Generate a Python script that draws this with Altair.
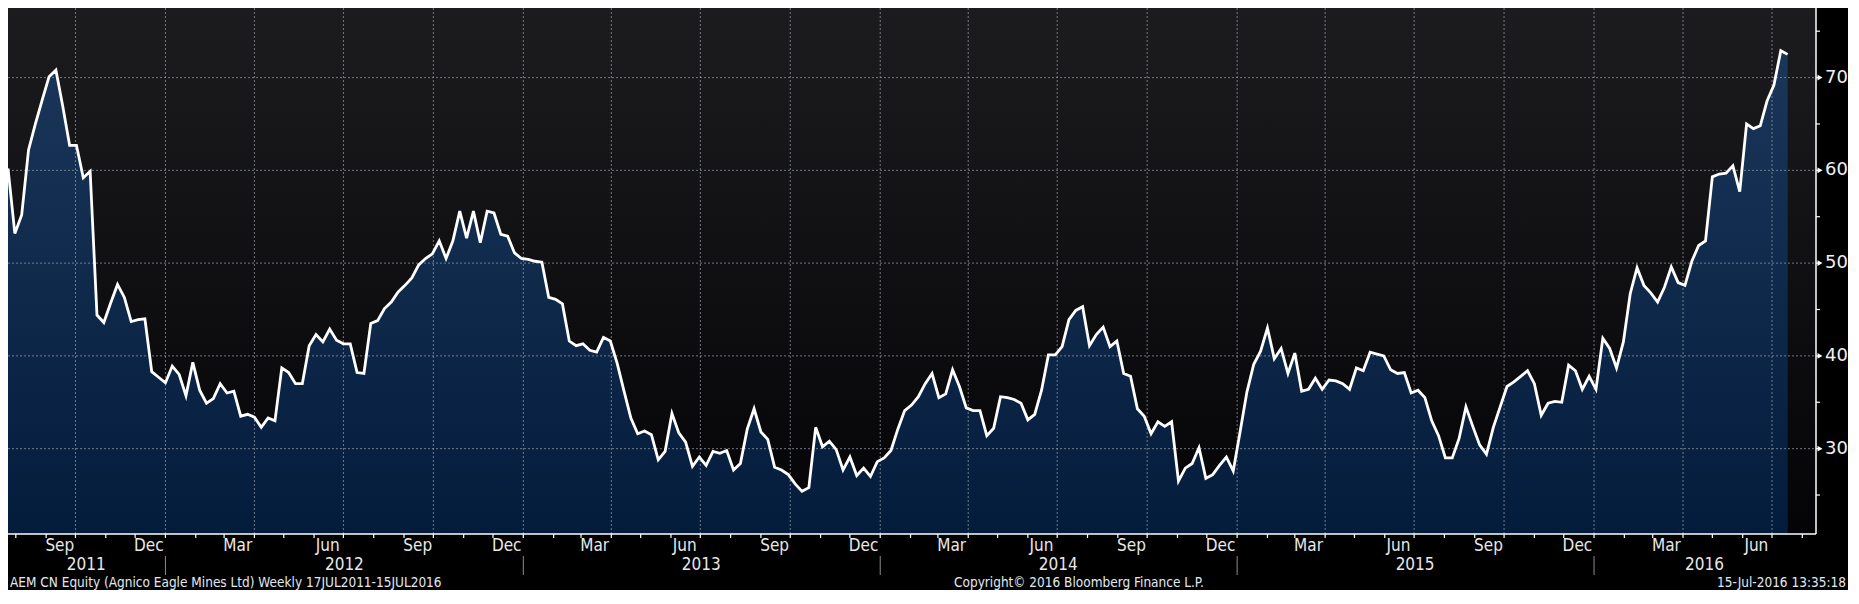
import altair as alt
import pandas as pd

# ---------------- data ----------------
PRICES = [
    60.2, 53.2, 55.2, 62.2, 65.0, 67.6, 70.1, 70.8, 66.9, 62.7,
    62.7, 59.2, 59.9, 44.4, 43.6, 45.7, 47.7, 46.3, 43.7, 43.9,
    44.0, 38.3, 37.7, 37.1, 38.9, 38.0, 35.7, 39.3, 36.3, 34.9,
    35.4, 37.0, 36.0, 36.2, 33.5, 33.7, 33.4, 32.3, 33.3, 33.0,
    38.7, 38.2, 37.0, 37.0, 41.1, 42.3, 41.5, 42.9, 41.7, 41.3,
    41.3, 38.2, 38.1, 43.5, 43.8, 45.1, 45.8, 46.9, 47.6, 48.4,
    49.8, 50.5, 51.0, 52.4, 50.5, 52.4, 55.6, 52.7, 55.6, 52.2,
    55.6, 55.4, 53.1, 52.9, 51.1, 50.5, 50.4, 50.2, 50.1, 46.3,
    46.1, 45.6, 41.6, 41.1, 41.3, 40.6, 40.4, 42.0, 41.6, 39.2,
    36.2, 33.3, 31.6, 31.9, 31.5, 28.8, 29.7, 33.8, 31.7, 30.7,
    28.1, 29.1, 28.2, 29.7, 29.5, 29.8, 27.7, 28.4, 32.1, 34.3,
    31.8, 31.0, 28.0, 27.7, 27.2, 26.2, 25.4, 25.8, 32.3, 30.2,
    30.8, 29.9, 27.7, 29.1, 27.1, 27.9, 27.0, 28.6, 29.0, 29.8,
    32.1, 34.1, 34.7, 35.6, 37.0, 38.1, 35.5, 35.9, 38.5, 36.7,
    34.4, 34.1, 34.1, 31.4, 32.2, 35.6, 35.5, 35.3, 34.9, 33.1,
    33.7, 36.3, 40.1, 40.1, 41.0, 43.9, 44.9, 45.3, 41.1, 42.3,
    43.1, 41.0, 41.6, 38.1, 37.8, 34.3, 33.5, 31.6, 32.9, 32.4,
    32.9, 26.5, 27.9, 28.4, 30.1, 26.8, 27.2, 28.2, 29.1, 27.6,
    31.8, 36.1, 39.1, 40.5, 43.0, 39.7, 40.8, 38.1, 40.3, 36.2,
    36.4, 37.6, 36.4, 37.4, 37.3, 37.0, 36.4, 38.7, 38.4, 40.4,
    40.2, 40.0, 38.5, 38.1, 38.2, 36.0, 36.3, 35.5, 33.0, 31.4,
    29.0, 29.0, 31.1, 34.5, 32.4, 30.4, 29.4, 32.3, 34.5, 36.7,
    37.2, 37.8, 38.4, 37.0, 33.6, 34.9, 35.1, 35.0, 39.0, 38.4,
    36.4, 37.8, 36.4, 41.9, 40.8, 38.7, 41.5, 46.7, 49.5, 47.6,
    46.8, 45.8, 47.4, 49.6, 47.9, 47.6, 50.2, 51.9, 52.4, 59.3,
    59.6, 59.7, 60.5, 57.7, 65.0, 64.5, 64.8, 67.5, 69.2, 72.9,
    72.5,
]
FIRST_DATE = "2011-07-24"          # weekly observations
X_DOMAIN = ("2011-07-24", "2016-08-15")
Y_DOMAIN = (20.8, 77.5)
Y_MAJOR = [30, 40, 50, 60, 70]
Y_TICKS = [25, 30, 35, 40, 45, 50, 55, 60, 65, 70, 75]
LABEL_MONTHS = [3, 6, 9, 12]
YEARS = [2011, 2012, 2013, 2014, 2015, 2016]
FOOT_LEFT = "AEM CN Equity (Agnico Eagle Mines Ltd)  Weekly 17JUL2011-15JUL2016"
FOOT_MID = "Copyright\u00a9 2016 Bloomberg Finance L.P."
FOOT_RIGHT = "15-Jul-2016 13:35:18"

# ---------------- layout / style ----------------
PW, PH = 1808, 526
PAD_R, PAD_B = 32, 56
COND = "Liberation Sans Narrow, DejaVu Sans Condensed, Arial Narrow, sans-serif"
TXT = "#e8e8e8"

x0 = pd.Timestamp(X_DOMAIN[0])
x1 = pd.Timestamp(X_DOMAIN[1])


def dt(ts):
    return alt.DateTime(year=ts.year, month=ts.month, date=ts.day, utc=True)


xs = alt.Scale(type="utc", domain=[dt(x0), dt(x1)])
ys = alt.Scale(domain=list(Y_DOMAIN), zero=False, nice=False)

dates = pd.date_range(FIRST_DATE, periods=len(PRICES), freq="7D")
price_df = pd.DataFrame({"date": dates.strftime("%Y-%m-%d"), "price": PRICES})

month_starts = pd.date_range(x0 + pd.offsets.MonthBegin(1), x1, freq="MS")
tick_df = pd.DataFrame({"d": month_starts.strftime("%Y-%m-%d")})
qstarts = [d for d in month_starts if d.month in (1, 4, 7, 10)]
qgrid_df = pd.DataFrame({"d": [d.strftime("%Y-%m-%d") for d in qstarts]})

mlabels = []
for y in YEARS:
    for m in LABEL_MONTHS:
        mid = pd.Timestamp(year=y, month=m, day=15)
        if x0 <= mid <= x1:
            mlabels.append({"d": mid.strftime("%Y-%m-%d"), "t": mid.strftime("%b")})
month_df = pd.DataFrame(mlabels)

ylabels = []
for y in YEARS:
    a = max(pd.Timestamp(year=y, month=1, day=1), x0)
    b = min(pd.Timestamp(year=y + 1, month=1, day=1), x1)
    c = a + (b - a) / 2
    ylabels.append({"d": c.strftime("%Y-%m-%d"), "t": str(y)})
year_df = pd.DataFrame(ylabels)
sep_df = pd.DataFrame({"d": [f"{y}-01-01" for y in YEARS[1:]]})

ymaj_df = pd.DataFrame({"v": Y_MAJOR, "t": [str(v) for v in Y_MAJOR]})
ytick_df = pd.DataFrame({"v": Y_TICKS})

one = alt.Data(values=[{"k": 1}])

bg_grad = alt.LinearGradient(
    gradient="linear", x1=0, x2=0, y1=0, y2=1,
    stops=[alt.GradientStop(color="#1c1c1f", offset=0),
           alt.GradientStop(color="#040407", offset=1)])
area_grad = alt.LinearGradient(
    gradient="linear", x1=0, x2=0, y1=0, y2=1,
    stops=[alt.GradientStop(color="#1a365a", offset=0),
           alt.GradientStop(color="#041c3c", offset=1)])

X_T = lambda f: alt.X(f, type="temporal", scale=xs, axis=None)
Y_Q = lambda f: alt.Y(f, type="quantitative", scale=ys, axis=None)

bg = alt.Chart(one).mark_rect(fill=bg_grad).encode(
    x=alt.value(0), x2=alt.value(PW), y=alt.value(0), y2=alt.value(PH))

area = alt.Chart(price_df).mark_area(fill=area_grad, clip=True).encode(
    x=X_T("date"), y=Y_Q("price"), y2=alt.datum(Y_DOMAIN[0]))

GRID = dict(color="#9aa3ad", opacity=0.7, strokeDash=[2, 2], strokeWidth=1)
hgrid = alt.Chart(ymaj_df).mark_rule(**GRID).encode(
    y=Y_Q("v"), x=alt.value(0), x2=alt.value(PW))
vgrid = alt.Chart(qgrid_df).mark_rule(**GRID).encode(
    x=X_T("d"), y=alt.value(0), y2=alt.value(PH))

line = alt.Chart(price_df).mark_line(color="white", strokeWidth=2.8).encode(
    x=X_T("date"), y=Y_Q("price"))

# right axis
ydomain = alt.Chart(one).mark_rule(color="white", strokeWidth=1.5).encode(
    x=alt.value(PW), y=alt.value(0), y2=alt.value(PH))
yticks = alt.Chart(ytick_df).mark_rule(color="white", strokeWidth=1.2).encode(
    y=Y_Q("v"), x=alt.value(PW), x2=alt.value(PW + 4))
tri = alt.Chart(ymaj_df).mark_point(
    shape="triangle-right", filled=True, color="white", size=34, opacity=1).encode(
    y=Y_Q("v"), x=alt.value(PW + 4))
ylab = alt.Chart(ymaj_df).mark_text(font="DejaVu Sans", fontSize=18, color="#f0f0f0",
                                    align="left", baseline="middle").encode(
    y=Y_Q("v"), x=alt.value(PW + 9), text="t:N")

# bottom axis
xdomain = alt.Chart(one).mark_rule(color="white", strokeWidth=1.5).encode(
    x=alt.value(0), x2=alt.value(PW), y=alt.value(PH))
mticks = alt.Chart(tick_df).mark_rule(color="white", strokeWidth=1.2).encode(
    x=X_T("d"), y=alt.value(PH), y2=alt.value(PH + 4))
mtext = alt.Chart(month_df).mark_text(font=COND, fontSize=17, color=TXT,
                                      baseline="middle").encode(
    x=X_T("d"), y=alt.value(PH + 12), text="t:N")
ytext = alt.Chart(year_df).mark_text(font=COND, fontSize=17, color=TXT,
                                     baseline="middle").encode(
    x=X_T("d"), y=alt.value(PH + 31), text="t:N")
seps = alt.Chart(sep_df).mark_rule(color="#8c8c8c", strokeWidth=1).encode(
    x=X_T("d"), y=alt.value(PH + 22), y2=alt.value(PH + 41))

FOOT = dict(font=COND, fontSize=13.5, color="#e2e9f2", baseline="middle")
f1 = alt.Chart(one).mark_text(text=FOOT_LEFT, align="left", **FOOT).encode(
    x=alt.value(2), y=alt.value(PH + 49))
f2 = alt.Chart(one).mark_text(text=FOOT_MID, align="left", **FOOT).encode(
    x=alt.value(946), y=alt.value(PH + 49))
f3 = alt.Chart(one).mark_text(text=FOOT_RIGHT, align="right", **FOOT).encode(
    x=alt.value(PW + PAD_R - 2), y=alt.value(PH + 49))

chart = alt.layer(
    bg, area, hgrid, vgrid, line, ydomain, yticks, tri, ylab,
    xdomain, mticks, mtext, ytext, seps, f1, f2, f3
).properties(
    width=PW, height=PH,
    padding={"left": 0, "top": 0, "right": PAD_R, "bottom": PAD_B},
    autosize=alt.AutoSizeParams(type="none"),
    background="black",
).configure_view(stroke=None)

chart.save("out.html", embed_options={"renderer": "svg", "actions": False})
